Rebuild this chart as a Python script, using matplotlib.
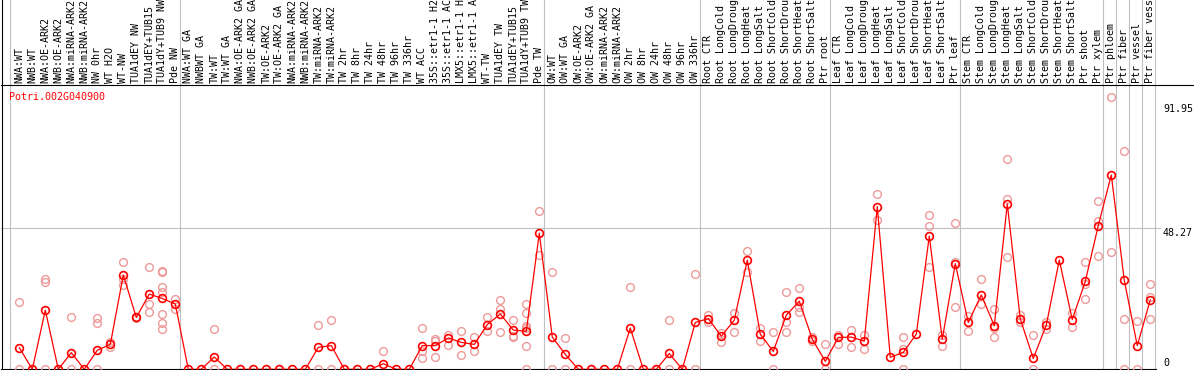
import matplotlib
matplotlib.use("Agg")
import matplotlib.pyplot as plt
from matplotlib.lines import Line2D
import matplotlib.transforms as mtransforms

gene_name = "Potri.002G040900"

labels = [
    "NWA:WT", "NWB:WT", "NWA:OE-ARK2", "NWB:OE-ARK2", "NWA:miRNA-ARK2", "NWB:miRNA-ARK2",
    "NW 0hr", "WT H2O", "WT-NW", "TUA1dEY NW", "TUA1dEY+TUB15", "TUA1dY+TUB9 NW", "Pde NW",
    "NWA:WT GA", "NWBWT GA", "TW:WT", "TW:WT GA", "NWA:OE-ARK2 GA", "NWB:OE-ARK2 GA",
    "TW:OE-ARK2", "TW:OE-ARK2 GA", "NWA:miRNA-ARK2", "NWB:miRNA-ARK2", "TW:miRNA-ARK2",
    "TW:miRNA-ARK2", "TW 2hr", "TW 8hr", "TW 24hr", "TW 48hr", "TW 96hr", "TW 336hr",
    "WT ACC", "35S::etr1-1 H2O", "35S::etr1-1 ACC", "LMX5::etr1-1 H2O", "LMX5::etr1-1 ACC",
    "WT-TW", "TUA1dEY TW", "TUA1dEY+TUB15", "TUA1dY+TUB9 TW", "Pde TW",
    "OW:WT", "OW:WT GA", "OW:OE-ARK2", "OW:OE-ARK2 GA", "OW:miRNA-ARK2", "OW:miRNA-ARK2",
    "OW 2hr", "OW 8hr", "OW 24hr", "OW 48hr", "OW 96hr", "OW 336hr",
    "Root CTR", "Root LongCold", "Root LongDrought", "Root LongHeat", "Root LongSalt",
    "Root ShortCold", "Root ShortDrought", "Root ShortHeat", "Root ShortSalt", "Ptr root",
    "Leaf CTR", "Leaf LongCold", "Leaf LongDrought", "Leaf LongHeat", "Leaf LongSalt",
    "Leaf ShortCold", "Leaf ShortDrought", "Leaf ShortHeat", "Leaf ShortSalt", "Ptr leaf",
    "Stem CTR", "Stem LongCold", "Stem LongDrought", "Stem LongHeat", "Stem LongSalt",
    "Stem ShortCold", "Stem ShortDrought", "Stem ShortHeat", "Stem ShortSalt",
    "Ptr shoot", "Ptr xylem", "Ptr phloem", "Ptr fiber", "Ptr vessel", "Ptr fiber vessel",
]

mean_values = [
    7.4, 0, 20.2, 0, 5.7, 0, 6.5, 8.5, 32.2, 17.7, 25.7, 24.2, 22.3,
    0, 0, 4.2, 0, 0, 0, 0, 0, 0, 0, 7.5, 8.1, 0, 0, 0, 1.9, 0, 0,
    8.1, 8.1, 10.7, 9.2, 8.5, 15.3, 18.9, 13.4, 13.0, 46.5,
    11.0, 5.1, 0, 0, 0, 0, 14.1, 0, 0, 5.4, 0, 16.0,
    17.3, 11.3, 16.8, 37.3, 12.0, 6.1, 18.5, 23.3, 10.3, 2.7,
    10.9, 11.0, 9.6, 55.6, 4.1, 5.8, 12.0, 45.5, 10.3, 36.1,
    16.0, 25.4, 14.9, 56.5, 17.2, 3.7, 15.1, 37.3, 17.0, 30.0, 49.1,
    66.4, 30.4, 8.1, 23.7,
]

replicates = [
    [22.9, 0], [], [30.9, 29.7, 0], [], [17.7, 0], [], [17.4, 15.7, 0], [9.4, 7.7],
    [36.6, 30.9, 28.8], [17.7, 17.4], [34.9, 22.3, 19.5],
    [33.7, 33.2, 28.0, 26.3, 18.9, 15.7, 13.6], [24.0, 20.6],
    [], [], [13.6, 0], [], [], [], [], [], [], [], [15.0, 0], [16.8, 0], [], [], [],
    [6.2], [], [],
    [14.0, 6.3, 4.0], [10.3, 9.8, 4.1], [11.7, 8.2], [13.0, 5.0], [11.0, 6.2],
    [17.7, 13.1], [23.6, 20.5, 12.7], [17.0, 11.3, 10.9],
    [22.3, 19.1, 14.8, 14.0, 8.1, 0], [54.2, 38.9],
    [33.2, 0], [10.6, 0], [], [], [], [], [28.0, 0], [], [], [17.0, 0], [], [32.6, 0],
    [18.5, 16.0], [12.5, 9.4], [19.1, 12.6], [40.4, 33.4], [14.0, 9.7], [12.9, 0],
    [26.3, 16.0, 12.9], [27.7, 21.4, 19.7], [11.1, 9.7], [8.5, 0],
    [11.7, 8.6], [13.4, 7.5], [11.7, 6.8], [59.9, 50.9], [], [11.0, 7.0, 0], [],
    [52.8, 49.0, 34.9], [11.7, 8.0], [50.0, 36.8, 21.2],
    [18.3, 13.0], [30.8, 22.2], [20.6, 14.0, 10.9], [71.9, 58.3, 38.5], [18.5, 16.2],
    [11.6, 0], [16.0, 13.6], [], [19.1, 14.3], [36.8, 29.2, 24.1], [57.4, 50.5, 38.8],
    [92.9, 40.0], [74.7, 17.2, 0], [16.4, 0], [29.2, 24.8, 17.2],
]

group_starts = [0, 13, 41, 53, 63, 73, 84, 85, 86, 87, 88]
ytick_values = [0, 48.27, 91.95]
ytick_labels = ["0", "48.27", "91.95"]

W, H = 1194, 370
fig = plt.figure(figsize=(W / 100, H / 100), dpi=100)
ax_left, ax_right, ax_top, ax_bottom = 1, 1156, 85, 369.3
ax = fig.add_axes([ax_left / W, (H - ax_bottom) / H, (ax_right - ax_left) / W,
                   (ax_bottom - ax_top) / H])

x = list(range(len(labels)))
ax.set_xlim(-1.408, 87.44)
ax.set_ylim(0, 97.13)

mono = "DejaVu Sans Mono"
fs = 7.2

# replicate points
rx, ry = [], []
for i, reps in enumerate(replicates):
    for v in reps:
        rx.append(i)
        ry.append(v)
ax.plot(rx, ry, linestyle="none", marker="o", markersize=5.6, markerfacecolor="none",
        markeredgecolor="#ee9a9a", markeredgewidth=1.0, zorder=3)

# main series
ax.plot(x, mean_values, color="#ff0000", linewidth=0.9, zorder=4)
ax.plot(x, mean_values, linestyle="none", marker="o", markersize=5.6,
        markerfacecolor="none", markeredgecolor="#ff0000", markeredgewidth=1.2, zorder=5)

# gridline at 48.27
ax.axhline(48.27, xmin=0, xmax=(1160 - ax_left) / (ax_right - ax_left), color="#c0c0c0",
           linewidth=0.8, clip_on=False, zorder=1)

# group separators spanning full height
ymax_ax = ax_bottom / (ax_bottom - ax_top)
for k, s in enumerate(group_starts):
    xpos = s - 0.62 if k > 0 else -0.7
    ax.axvline(xpos, ymin=0, ymax=ymax_ax, color="#c0c0c0", linewidth=0.8,
               clip_on=False, zorder=1)

# spines / borders
for sp in ["top", "right", "left"]:
    ax.spines[sp].set_visible(False)
ax.spines["bottom"].set_color("black")
ax.spines["bottom"].set_linewidth(0.8)
fig.add_artist(Line2D([ax_left / W, 1.0], [(H - ax_top) / H] * 2, color="black",
                      linewidth=0.8, transform=fig.transFigure))
fig.add_artist(Line2D([1.5 / W] * 2, [0, 1], color="black", linewidth=0.8,
                      transform=fig.transFigure))

# category labels on top
ax.xaxis.tick_top()
ax.set_xticks(x)
ax.set_xticklabels(labels, rotation=90, fontsize=fs, family=mono, color="black")
ax.tick_params(axis="x", length=0, pad=1.4)
ax.set_yticks([])

# value labels on right
offsets = [3, -8, -12]
for val, lab, dy in zip(ytick_values, ytick_labels, offsets):
    ax.annotate(lab, xy=(1.0, val), xycoords=("axes fraction", "data"),
                xytext=(7, dy), textcoords="offset pixels", ha="left", va="baseline",
                fontsize=fs, family=mono, color="black", annotation_clip=False)

fig.text(9.3 / W, (H - 100) / H, gene_name, color="#ff0000", fontsize=fs, family=mono,
         ha="left", va="baseline")

fig.savefig("out.png", dpi=100)
